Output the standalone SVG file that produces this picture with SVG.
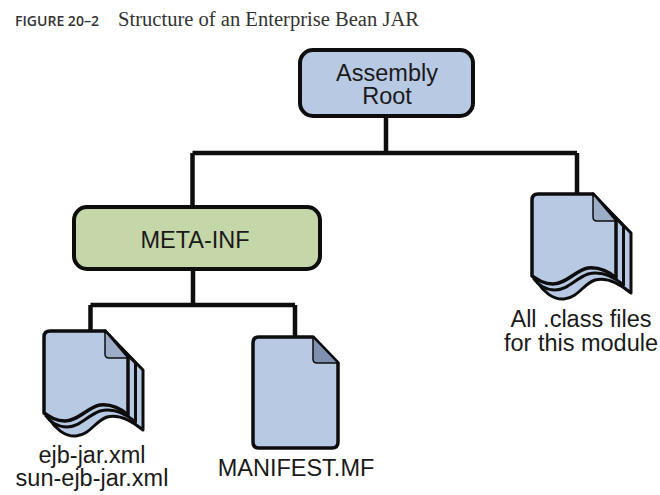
<svg xmlns="http://www.w3.org/2000/svg" xmlns:xlink="http://www.w3.org/1999/xlink" width="660" height="495" viewBox="0 0 660 495">
<style>
.box{stroke:#0d0d0d;stroke-width:4}
.blue{fill:#b8c9e4}
.green{fill:#c5d6a8}
.ln{fill:none;stroke:#0d0d0d;stroke-width:4.5;stroke-linejoin:miter}
.doc{stroke:#0d0d0d;stroke-width:3.5;stroke-linejoin:round}
.thin{stroke:#0d0d0d;stroke-width:3;stroke-linejoin:round}
.fold{fill:#9dadc8;stroke:#0d0d0d;stroke-width:1.5;stroke-linejoin:round}
.fold2{fill:#7f90ae;stroke:#0d0d0d;stroke-width:1.5;stroke-linejoin:round}
.t{font-family:"Liberation Sans",Arial,sans-serif;font-size:23.500px;fill:#1a1a1a;text-anchor:middle}
</style>
<defs>
<g id="stack">
<path class="blue thin" d="M105 331L143 370V430C131 420 118 414 107 417C95 421 90 435 76 436C65 437 55 428 50 420Z"/>
<path class="blue thin" d="M105 331L135.500 363V422C125 413 112 408 100 411C88 415 80 427 67 427C58 427 50 422 46 416Z"/>
<path class="blue doc" d="M50 331H105L128 357V415C120 408 110 404 100 405C88 407 78 421 65 421C56 421 50 417 44 413V337Q44 331 50 331Z"/>
<path class="fold" d="M105 331V354Q105 358 109 358H128Z"/>
</g>
</defs>
<text x="15" y="26" font-family="'Open Sans','Noto Sans',sans-serif" font-size="14.500" font-weight="600" fill="#333" textLength="84" lengthAdjust="spacingAndGlyphs">FIGURE 20–2</text>
<text x="118" y="26" font-family="'Liberation Serif',serif" font-size="20" fill="#333" textLength="301" lengthAdjust="spacingAndGlyphs">Structure of an Enterprise Bean JAR</text>
<g id="connectors">
<path class="ln" d="M386 116V153M192.500 153H577M192.500 153V206M577 153V194"/>
<path class="ln" d="M193 269V305M90.500 305H295M90.500 305V331M295 305V337"/>
</g>
<g id="assembly-root">
<rect class="box blue" x="300" y="50" width="173" height="66" rx="13"/>
<text class="t" x="387" y="81">Assembly</text>
<text class="t" x="387" y="104">Root</text>
</g>
<g id="meta-inf">
<rect class="box green" x="74" y="207" width="246" height="62" rx="13"/>
<text class="t" x="195" y="248">META-INF</text>
</g>
<g id="ejb-files">
<use xlink:href="#stack"/>
<text class="t" x="92" y="463">ejb-jar.xml</text>
<text class="t" x="92" y="486">sun-ejb-jar.xml</text>
</g>
<g id="manifest">
<path class="blue doc" d="M259 337H313L338 363V442Q338 448 332 448H259Q253 448 253 442V343Q253 337 259 337Z"/>
<path class="fold2" d="M313 337V359Q313 363 317 363H338Z"/>
<text class="t" x="296" y="476">MANIFEST.MF</text>
</g>
<g id="class-files">
<use xlink:href="#stack" x="488" y="-137"/>
<text class="t" x="581" y="327">All .class files</text>
<text class="t" x="581" y="351">for this module</text>
</g>
</svg>
